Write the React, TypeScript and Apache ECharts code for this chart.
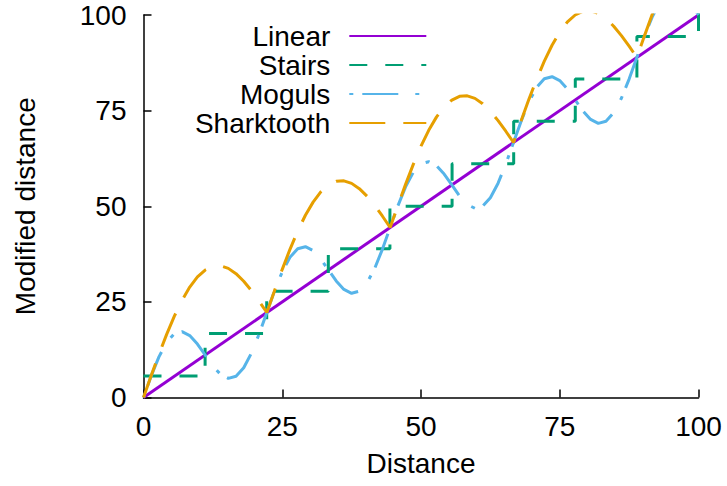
import React, { useEffect, useRef } from "react";
import * as echarts from "echarts";

const seriesNames = ["Linear", "Stairs", "Moguls", "Sharktooth"];
const seriesColors = ["#9400D3", "#009E73", "#56B4E9", "#E69F00"];

const linearX = [0, 100];
const linearY = [0, 100];

const stairX = [0, 11.1, 22.2, 33.3, 44.4, 55.6, 66.7, 77.8, 88.9, 100];
const stairY = [5.6, 16.7, 27.8, 38.9, 50, 61.1, 72.2, 83.3, 94.4, 105.6];

const curveX = [
  0, 1.39, 2.78, 4.17, 5.56, 6.94, 8.33, 9.72, 11.11, 12.5, 13.89, 15.28, 16.67, 18.06, 19.44, 20.83,
  22.22, 23.61, 25, 26.39, 27.78, 29.17, 30.56, 31.94, 33.33, 34.72, 36.11, 37.5, 38.89, 40.28, 41.67, 43.06,
  44.44, 45.83, 47.22, 48.61, 50, 51.39, 52.78, 54.17, 55.56, 56.94, 58.33, 59.72, 61.11, 62.5, 63.89, 65.28,
  66.67, 68.06, 69.44, 70.83, 72.22, 73.61, 75, 76.39, 77.78, 79.17, 80.56, 81.94, 83.33, 84.72, 86.11, 87.5,
  88.89, 90.28, 91.67, 93.06, 94.44, 95.83, 97.22, 98.61, 100,
];

const mogulsY = [
  0, 5.64, 10.63, 14.43, 16.67, 17.21, 16.19, 13.97, 11.11, 8.25, 6.03, 5.01, 5.56, 7.79, 11.59, 16.58,
  22.22, 27.86, 32.86, 36.65, 38.89, 39.43, 38.41, 36.2, 33.33, 30.47, 28.25, 27.24, 27.78, 30.01, 33.81, 38.8,
  44.44, 50.08, 55.08, 58.87, 61.11, 61.65, 60.63, 58.42, 55.56, 52.69, 50.47, 49.46, 50.0, 52.23, 56.03, 61.02,
  66.67, 72.3, 77.3, 81.09, 83.33, 83.87, 82.86, 80.64, 77.78, 74.91, 72.69, 71.68, 72.22, 74.45, 78.25, 83.24,
  88.89, 94.52, 99.52, 103.31, 105.56, 106.09, 105.08, 102.86, 100,
];

const sharktoothY = [
  0, 5.72, 11.28, 16.51, 21.27, 25.42, 28.86, 31.52, 33.33, 34.3, 34.42, 33.76, 32.38, 30.4, 27.95, 25.17,
  22.22, 27.94, 33.5, 38.73, 43.49, 47.64, 51.08, 53.74, 55.55, 56.52, 56.64, 55.98, 54.6, 52.62, 50.17, 47.39,
  44.44, 50.16, 55.72, 60.95, 65.71, 69.86, 73.3, 75.96, 77.77, 78.74, 78.86, 78.2, 76.82, 74.84, 72.39, 69.61,
  66.67, 72.39, 77.95, 83.18, 87.94, 92.09, 95.53, 98.19, 100.0, 100.97, 101.09, 100.43, 99.05, 97.07, 94.62, 91.84,
  88.89, 94.61, 100.17, 105.4, 110.16, 114.31, 117.75, 120.41, 122.22,
];

const axisMin = 0;
const axisMax = 100;
const axisInterval = 25;

const pair = (xs: number[], ys: number[]) => xs.map((x, i) => [x, ys[i]]);

export default function App() {
  const ref = useRef<HTMLDivElement>(null);
  useEffect(() => {
    const chart = echarts.init(ref.current!, null, { renderer: "svg" });
    const font = "'Liberation Sans', Arial, Helvetica, sans-serif";
    const lineCol = { color: "#000", width: 1.5 };
    const axisBase = {
      type: "value",
      min: axisMin,
      max: axisMax,
      interval: axisInterval,
      splitLine: { show: false },
      axisLine: { show: true, lineStyle: lineCol },
      axisTick: { show: true, inside: true, length: 8, lineStyle: lineCol },
      nameLocation: "middle",
      nameTextStyle: { fontSize: 28, color: "#000", fontFamily: font },
    };
    chart.setOption({
      animation: false,
      textStyle: { fontFamily: font },
      grid: { left: 143.5, right: 28.5, top: 15, bottom: 88.5, containLabel: false },
      legend: {
        show: true,
        orient: "vertical",
        align: "right",
        right: 299.7,
        top: 21.5,
        padding: 0,
        itemGap: 0,
        itemWidth: 77,
        itemHeight: 14,
        selectedMode: false,
        itemStyle: { opacity: 0 },
        textStyle: {
          fontSize: 28,
          color: "#000",
          lineHeight: 29,
          padding: [0, 14, 0, 0],
          fontFamily: font,
        },
        data: seriesNames,
      },
      xAxis: {
        ...axisBase,
        name: "Distance",
        nameGap: 52,
        axisLabel: { fontSize: 28, color: "#000", margin: 15, fontFamily: font },
      },
      yAxis: {
        ...axisBase,
        name: "Modified distance",
        nameGap: 104,
        nameRotate: 90,
        axisLabel: { fontSize: 28, color: "#000", margin: 17, fontFamily: font },
      },
      series: [
        {
          name: seriesNames[0],
          type: "line",
          data: pair(linearX, linearY),
          symbol: "none",
          itemStyle: { color: seriesColors[0] },
          lineStyle: { color: seriesColors[0], width: 3 },
        },
        {
          name: seriesNames[1],
          type: "line",
          step: "end",
          data: pair(stairX, stairY),
          symbol: "none",
          itemStyle: { color: seriesColors[1] },
          lineStyle: { color: seriesColors[1], width: 3, type: [18, 18] },
        },
        {
          name: seriesNames[2],
          type: "line",
          data: pair(curveX, mogulsY),
          symbol: "none",
          itemStyle: { color: seriesColors[2] },
          lineStyle: { color: seriesColors[2], width: 3, type: [36, 17, 4, 9], dashOffset: 53 },
        },
        {
          name: seriesNames[3],
          type: "line",
          data: pair(curveX, sharktoothY),
          symbol: "none",
          itemStyle: { color: seriesColors[3] },
          lineStyle: { color: seriesColors[3], width: 3, type: [36, 18] },
        },
      ],
    });
    return () => chart.dispose();
  }, []);
  return (
    <div
      ref={ref}
      style={{ position: "absolute", left: 0, top: 0, width: 727, height: 486 }}
    />
  );
}
